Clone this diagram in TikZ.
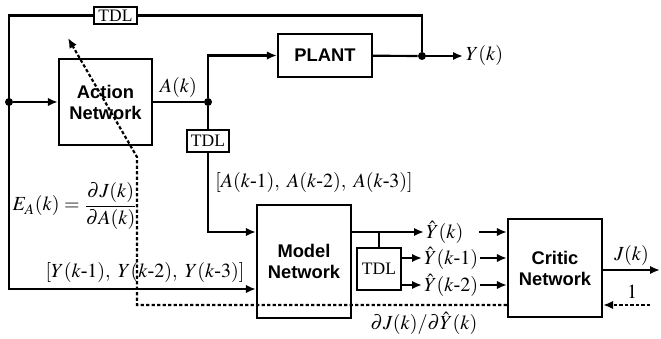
\documentclass[tikz,border=0pt]{standalone}
\usepackage{mathptmx}
\usepackage[no-math]{fontspec}
\setmainfont{Liberation Serif}
\setsansfont{Liberation Sans}
\usetikzlibrary{arrows.meta,calc}
\newcommand{\kminus}{\mbox{-}}

\tikzset{
  block/.style={draw,line width=1.3pt,align=center,inner sep=0pt,
    font=\sffamily\bfseries\fontsize{11}{12.6}\selectfont},
  tdlbox/.style={draw,line width=1.3pt,inner sep=0pt,font=\fontsize{10.5}{11}\selectfont},
  sig/.style={line width=1.3pt},
  arr/.style={sig,-{Latex[length=6pt,width=5pt]}},
  back/.style={sig,dash pattern=on 2pt off 1.3pt},
  lab/.style={inner sep=1pt,font=\fontsize{12}{14}\selectfont},
  junction/.style={circle,fill,inner sep=0pt,minimum size=4.8pt}
}

\begin{document}
\begin{tikzpicture}[x=0.6pt,y=-0.6pt]
\useasboundingbox (0,0) rectangle (661,339);
% blocks
\node[block,minimum width=55.8pt,minimum height=51.6pt] (action) at (105.5,102) {Action\\Network};
\node[block,minimum width=56.4pt,minimum height=25.8pt] (plant) at (325,55.5) {PLANT};
\node[block,minimum width=56.4pt,minimum height=67.8pt] (model) at (304,261.5) {Model\\Network};
\node[block,minimum width=56.4pt,minimum height=58.8pt] (critic) at (555,268) {Critic\\Network};
\node[tdlbox,minimum width=25.8pt,minimum height=10.2pt] (tdltop) at (115.5,15.5) {TDL};
\node[tdlbox,minimum width=25.2pt,minimum height=13.2pt] (tdlA) at (208,141) {TDL};
\node[tdlbox,minimum width=26.4pt,minimum height=25.2pt] (tdlY) at (379,269) {TDL};
% junctions
\node[junction] (ldot) at (9,102) {};
\node[junction] (adot) at (208,102) {};
\node[junction] (ydot) at (422,56) {};
\coordinate (lcorner) at (9,289);
\coordinate (yout) at (463,56);
\coordinate (jout) at (660,270);
% forward signals
\draw[sig] (ydot) |- (tdltop.east);
\draw[arr] (tdltop.west) -| (lcorner) -- (lcorner -| model.west);
\draw[arr] (ldot) -- (action);
\draw[sig] (action) -- (adot) node[lab,midway,above=1pt] (ak) {$A(k)$};
\draw[arr] (adot) |- (plant);
\draw[sig] (plant) -- (ydot);
\draw[arr] (ydot) -- (yout) node[lab,right=0pt] (yk) {$Y(k)$};
\draw[sig] (adot) -- (tdlA);
\draw[arr] (tdlA) |- ($(model.west)+(0,-29.5)$);
\coordinate (mout) at ($(model.east)+(0,-29.5)$);
\node[lab,anchor=west] (yh0) at (424,232) {$\hat Y(k)$};
\node[lab,anchor=west] (yh1) at (422,258) {$\hat Y(k\kminus1)$};
\node[lab,anchor=west] (yh2) at (422,285) {$\hat Y(k\kminus2)$};
\draw[arr] (mout) -- (yh0.west);
\draw[sig] (tdlY.north |- mout) -- (tdlY.north);
\draw[arr] (tdlY.east |- yh1) -- (yh1.west);
\draw[arr] (tdlY.east |- yh2) -- (yh2.west);
\draw[arr] ($(yh0.east)+(14,0)$) -- (yh0 -| critic.west);
\draw[arr] (yh1.east) -- (yh1 -| critic.west);
\draw[arr] (yh2.east) -- (yh2 -| critic.west);
\draw[arr] (critic.east |- jout) -- (jout) node[lab,midway,above=1pt] (jk) {$J(k)$};
% back-propagated signals
\coordinate (dstart) at (650,305);
\coordinate (dturn) at (137,305);
\coordinate (dbend) at (137,157);
\coordinate (dend) at (68,38);
\draw[back,-{Latex[length=6pt,width=5pt]}] (dstart) -- (critic.east |- dstart);
\draw[back,-{Latex[length=6pt,width=5pt]}] (critic.west |- dstart) -- (dturn) -- (dbend) -- (dend);
\node[lab] (one) at (632,292) {$1$};
\node[lab] (dj) at (424,323) {$\partial J(k)/\partial\hat Y(k)$};
% labels
\node[lab] (alist) at (314,183) {$[A(k\kminus1),\ A(k\kminus2),\ A(k\kminus3)]$};
\node[lab] (ylist) at (145,272) {$[Y(k\kminus1),\ Y(k\kminus2),\ Y(k\kminus3)]$};
\node[lab] (ea) at (75,206) {$E_A(k)=\displaystyle\frac{\partial J(k)}{\partial A(k)}$};
\end{tikzpicture}
\end{document}
